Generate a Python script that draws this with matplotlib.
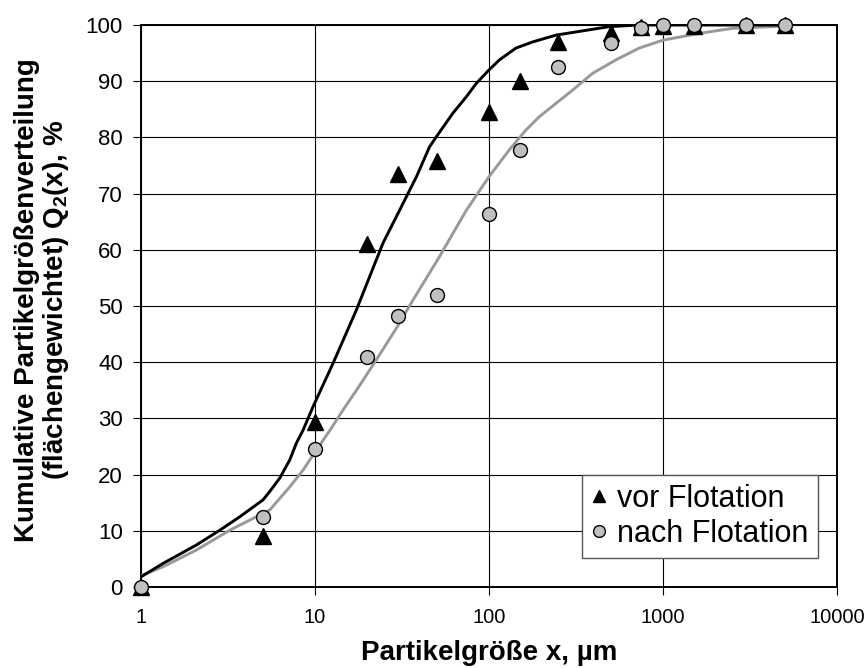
import matplotlib
matplotlib.use("Agg")
import matplotlib.pyplot as plt
from matplotlib.ticker import FixedLocator, FixedFormatter, NullLocator

plt.rcParams["font.family"] = ["Liberation Sans", "DejaVu Sans"]
plt.rcParams["mathtext.fontset"] = "custom"
plt.rcParams["mathtext.rm"] = "Liberation Sans:bold"
plt.rcParams["mathtext.it"] = "Liberation Sans:bold"
plt.rcParams["mathtext.bf"] = "Liberation Sans:bold"

# ── measured points ─────────────────────────────────────────────────────────
size_um = [1, 5, 10, 20, 30, 50, 100, 150, 250, 500, 750, 1000, 1500, 3000, 5000]
q2_vor = [0, 9, 29.3, 61, 73.5, 75.8, 84.5, 90, 97, 98.5, 99.7, 99.8, 99.9, 100, 100]
q2_nach = [0, 12.5, 24.6, 41, 48.2, 52, 66.3, 77.8, 92.6, 96.8, 99.5, 100, 100, 100, 100]

# ── fitted curves ───────────────────────────────────────────────────────────
fit_vor_x = [1, 1.34, 2.09, 2.84, 3.7, 5.03, 5.5, 6.28, 7.16, 7.82, 8.54, 9.75,
             12.7, 17.3, 24.6, 30.6, 35, 38.3, 45.5, 49.8, 62, 74, 84.5, 100,
             115, 143, 179, 243, 490, 725, 1000, 3000, 5000]
fit_vor_y = [1.8, 4.2, 7.5, 10.1, 12.5, 15.5, 17.0, 19.4, 22.6, 25.6, 27.9, 32.1,
             39.8, 49.3, 61.2, 67, 70.6, 73, 78.3, 80.1, 84.3, 87.2, 89.6, 92,
             93.8, 95.9, 97, 98.2, 99.7, 100, 100, 100, 100]
fit_nach_x = [1, 1.34, 2.09, 3.24, 4.61, 5.5, 7.16, 8.54, 10.2, 12.2, 14.5, 18.1,
              22.5, 29.3, 36.5, 52, 62, 74, 100, 131, 163, 195, 302, 394, 537,
              731, 1000, 1615, 2500, 5000]
fit_nach_y = [2, 3.6, 6.6, 10.1, 12.5, 13.7, 17.8, 20.8, 24.4, 27.9, 31.5, 35.9,
              40.4, 46, 51, 58.8, 62.9, 67, 73, 77.8, 81.3, 83.7, 88.4, 91.4, 93.8,
              95.9, 97.3, 98.5, 99.4, 99.8]

x_ticks = [1, 10, 100, 1000, 10000]
x_ticklabels = ["1", "10", "100", "1000", "10000"]
y_ticks = list(range(0, 101, 10))

fig = plt.figure(figsize=(8.67, 6.68), dpi=100)
ax = fig.add_axes([0.1626, 0.1213, 0.8028, 0.8413])

ax.plot(fit_nach_x, fit_nach_y, color="#999999", lw=2.1, zorder=3)
ax.plot(fit_vor_x, fit_vor_y, color="black", lw=2.1, zorder=4)
ax.plot(size_um, q2_vor, ls="none", marker="^", ms=11, color="black",
        label="vor Flotation", zorder=5, clip_on=False)
ax.plot(size_um, q2_nach, ls="none", marker="o", ms=10, mfc="#c0c0c0",
        mec="black", mew=1.0, label="nach Flotation", zorder=6, clip_on=False)

ax.set_xscale("log")
ax.set_xlim(1, 10000)
ax.set_ylim(0, 100)
ax.xaxis.set_major_locator(FixedLocator(x_ticks))
ax.xaxis.set_major_formatter(FixedFormatter(x_ticklabels))
ax.xaxis.set_minor_locator(NullLocator())
ax.set_yticks(y_ticks)
ax.grid(True, color="black", lw=0.8)
ax.set_axisbelow(True)
for s in ax.spines.values():
    s.set_linewidth(1.4)
ax.tick_params(axis="both", length=6, width=0.8, colors="black", direction="out")
ax.tick_params(axis="x", labelsize=14.5, pad=9)
ax.tick_params(axis="y", labelsize=16, pad=7)

ax.set_xlabel("Partikelgröße x, µm", fontsize=20, fontweight="bold")
ax.xaxis.set_label_coords(0.5, -0.094)
ax.set_ylabel("Kumulative Partikelgrößenverteilung\n(flächengewichtet) Q$_2$(x), %",
              fontsize=20, fontweight="bold", linespacing=1.05)
ax.yaxis.set_label_coords(-0.101, 0.51)

leg = ax.legend(loc="lower right", bbox_to_anchor=(0.972, 0.052), borderaxespad=0,
                fontsize=22, fancybox=False, framealpha=1, edgecolor="#555555",
                handlelength=0.5, handletextpad=0.35, borderpad=0.3,
                labelspacing=0.16, markerscale=0.85)
leg.get_frame().set_linewidth(1.0)

fig.savefig("out.png", dpi=100)
